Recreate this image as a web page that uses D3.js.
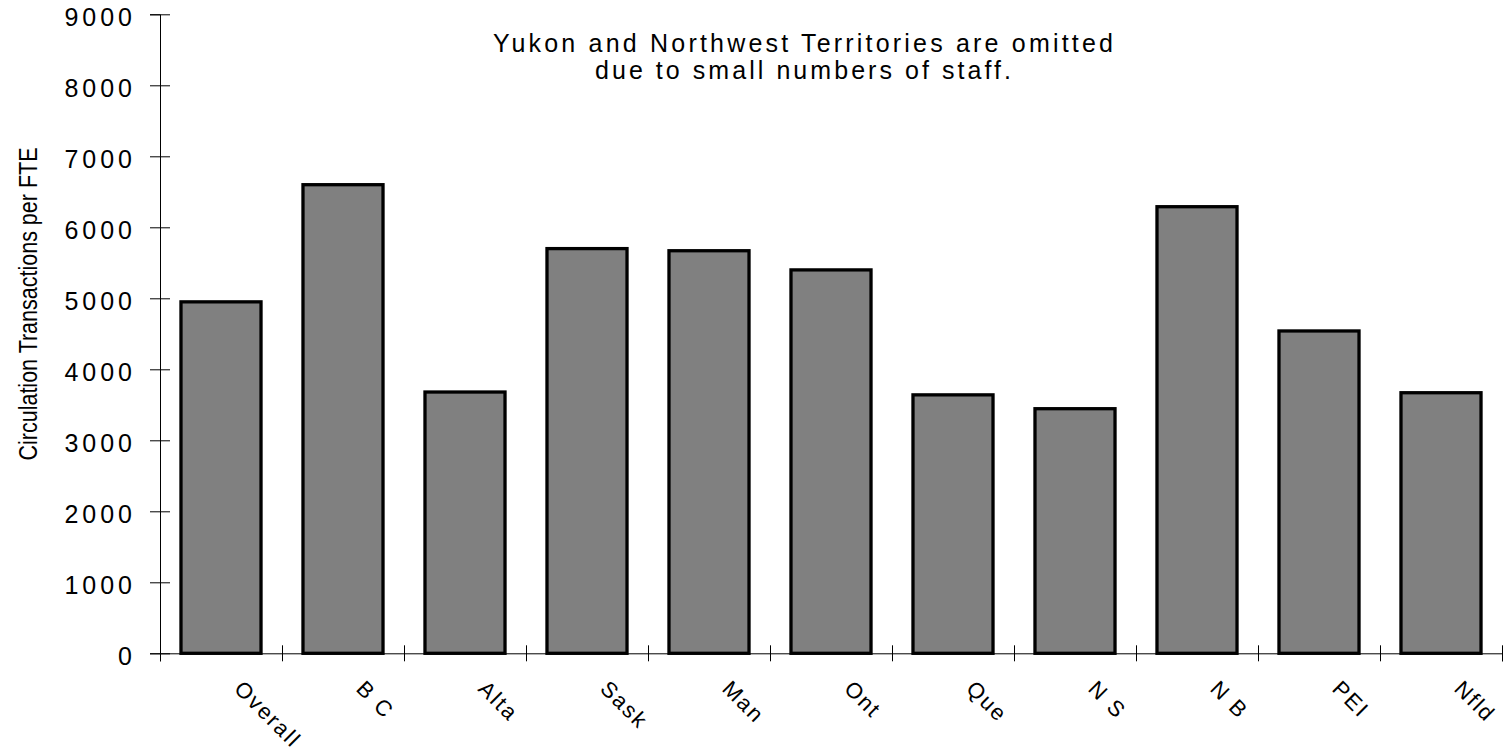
<!DOCTYPE html>
<html>
<head>
<meta charset="utf-8">
<script src="https://cdn.jsdelivr.net/npm/d3@7"></script>
<style>
  body { margin: 0; background: #fff; }
  svg text { font-family: Arial, "Liberation Sans", sans-serif; fill: #000; }
</style>
</head>
<body>
<svg id="chart" width="1507" height="754"></svg>
<script>
// data
const provinces = ["Overall", "B C", "Alta", "Sask", "Man", "Ont", "Que", "N S", "N B", "PEI", "Nfld"]
const circPerFte = [4950, 6600, 3680, 5700, 5670, 5400, 3640, 3445, 6290, 4540, 3670]
const yTicks = [0, 1000, 2000, 3000, 4000, 5000, 6000, 7000, 8000, 9000]
const yTitle = "Circulation Transactions per FTE"
const noteLines = ["Yukon and Northwest Territories are omitted", "due to small numbers of staff."]

const svg = d3.select("#chart")
const plotL = 160, plotR = 1502, plotT = 14.3, plotB = 653.3

const x = d3.scaleBand().domain(provinces).range([plotL, plotR])
  .paddingInner(0.344).paddingOuter(0.172)
const y = d3.scaleLinear().domain([0, 9000]).range([plotB, plotT])

// bars
svg.append("g").selectAll("rect").data(provinces)
  .join("rect")
  .attr("x", d => x(d))
  .attr("y", (d, i) => y(circPerFte[i]))
  .attr("width", x.bandwidth())
  .attr("height", (d, i) => y(0) - y(circPerFte[i]))
  .attr("fill", "#808080")
  .attr("stroke", "#000")
  .attr("stroke-width", 3.3)

// y axis, ticks cross the line
const yAxis = svg.append("g").attr("transform", `translate(${plotL},0)`)
  .call(d3.axisLeft(y).tickValues(yTicks).tickSize(10).tickPadding(0).tickFormat(d3.format("d")))
yAxis.select(".domain").attr("stroke", "#000")
yAxis.selectAll(".tick line").attr("x1", 10).attr("x2", -10).attr("stroke", "#000")
yAxis.selectAll(".tick text")
  .attr("x", -24).attr("dy", "0.46em")
  .style("font-size", "25px").style("letter-spacing", "4px")
  .style("font-family", "Arial, 'Liberation Sans', sans-serif").attr("fill", "#000")

// x axis: ticks at band boundaries
const edges = d3.scaleLinear().domain([0, provinces.length]).range([plotL, plotR])
const xAxis = svg.append("g").attr("transform", `translate(0,${plotB})`)
  .call(d3.axisBottom(edges).ticks(provinces.length).tickSize(8).tickFormat(""))
xAxis.select(".domain").attr("stroke", "#000")
xAxis.selectAll(".tick line").attr("y1", -8).attr("y2", 8).attr("stroke", "#000")

// slanted category labels
svg.append("g").selectAll("text").data(provinces)
  .join("text")
  .attr("transform", d => `translate(${x(d) + x.bandwidth() / 2 + 12},690) rotate(45)`)
  .style("font-size", "22px").style("letter-spacing", "2px")
  .text(d => d)

// y title
svg.append("text")
  .attr("transform", "translate(37,304) rotate(-90)")
  .attr("text-anchor", "middle")
  .attr("textLength", 313).attr("lengthAdjust", "spacingAndGlyphs")
  .style("font-size", "25px")
  .text(yTitle)

// note
svg.append("g").selectAll("text").data(noteLines)
  .join("text")
  .attr("x", 803)
  .attr("y", (d, i) => 52 + i * 27)
  .attr("text-anchor", "middle")
  .attr("textLength", (d, i) => [620, 416][i]).attr("lengthAdjust", "spacing")
  .style("font-size", "25px")
  .text(d => d)
</script>
</body>
</html>
